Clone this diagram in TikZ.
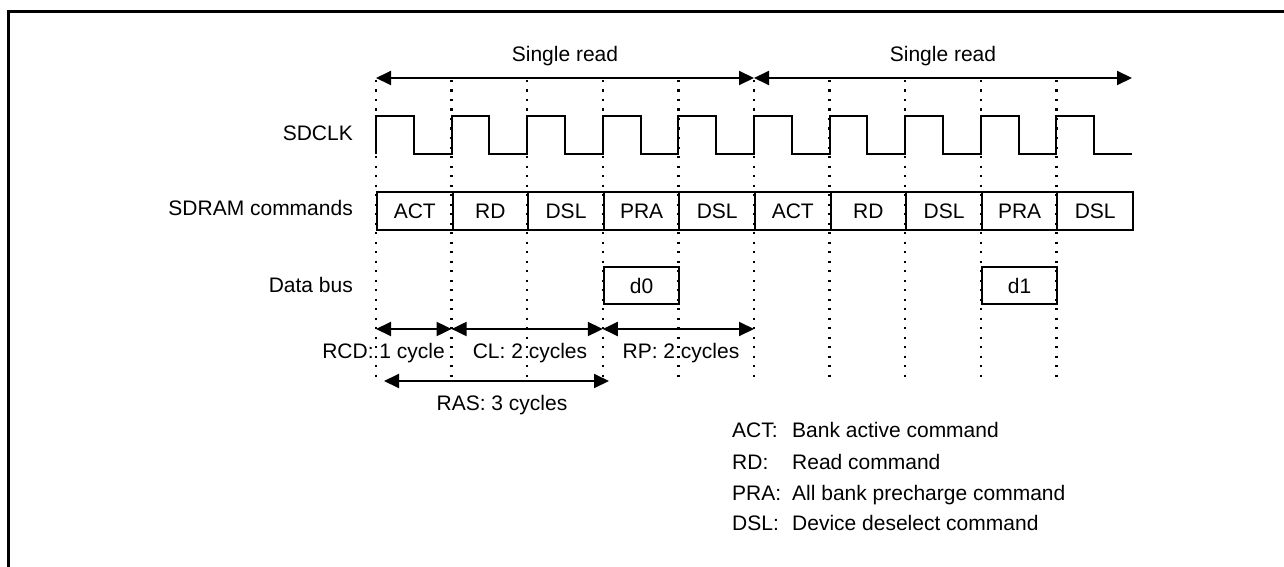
\documentclass[tikz,border=0pt]{standalone}
\usepackage{fontspec}
\setmainfont{Liberation Sans}
\usetikzlibrary{arrows.meta}
\begin{document}
\begin{tikzpicture}[x=1pt,y=-1pt,
  every node/.style={font=\fontsize{21}{25}\selectfont, inner sep=0pt},
  sig/.style={line width=2pt, line join=miter},
  cellbox/.style={draw, line width=2pt, minimum width=75.6pt, minimum height=38pt, anchor=north west},
  tick/.style={line width=2.3pt, dash pattern=on 2.2pt off 7.3pt},
  dimarrow/.style={line width=2pt, {Triangle[length=15pt,width=14pt]}-{Triangle[length=15pt,width=14pt]}},
  lbl/.style={anchor=east},
  leg/.style={anchor=base west}
]
\useasboundingbox (0,0) rectangle (1284,567);
\fill[white] (0,0) rectangle (1284,567);
% frame (top and left edges)
\draw[line width=3pt] (8.5,567) -- (8.5,11.5) -- (1284,11.5);

% tick coordinates
\foreach \i in {0,...,10} {
  \coordinate (tt\i) at ({376+75.6*\i},80);
  \coordinate (tb\i) at ({376+75.6*\i},381);
  \coordinate (ta\i) at ({376+75.6*\i},78);
  \coordinate (tm\i) at ({376+75.6*\i},329);
}
% dotted guide lines
\foreach \i in {0,...,9} {
  \draw[tick] (tt\i) -- (tb\i);
}

% Single read arrows
\draw[dimarrow] (ta0) -- node[above=11pt] (sr1) {Single read} (ta5);
\draw[dimarrow] (ta5) -- node[above=11pt] (sr2) {Single read} (ta10);

% signal labels
\node[lbl] (lclk) at (353,133) {SDCLK};
\node[lbl] (lcmd) at (353,208) {SDRAM commands};
\node[lbl] (ldat) at (353,285) {Data bus};

% clock
\draw[sig] (376,153.5)
  \foreach \i in {0,...,9} {
    -- ({376+75.6*\i},116.5) -- ({376+75.6*\i+37.8},116.5)
    -- ({376+75.6*\i+37.8},153.5) -- ({376+75.6*\i+75.6},153.5)
  };

% commands row
\foreach \t [count=\k from 0] in {ACT,RD,DSL,PRA,DSL,ACT,RD,DSL,PRA,DSL} {
  \node[cellbox] (c\k) at ({376+75.6*\k},191) {\t};
}

% data bus
\node[cellbox, minimum height=37pt] (d0) at ({376+75.6*3},266) {d0};
\node[cellbox, minimum height=37pt] (d1) at ({376+75.6*8},266) {d1};

% timing arrows
\coordinate (ras0) at (384,381);
\coordinate (ras1) at (609,381);
\draw[dimarrow] (tm0) -- (tm1);
\draw[dimarrow] (tm1) -- (tm3);
\draw[dimarrow] (tm3) -- (tm5);
\draw[dimarrow] (ras0) -- (ras1);
\node[anchor=east] (rcd) at (445,353) {RCD: 1 cycle};
\node (cl) at (530,353) {CL: 2 cycles};
\node (rp) at (681,353) {RP: 2 cycles};
\node (ras) at (502,405) {RAS: 3 cycles};

% legend
\node[leg] (k1) at (732,437.5) {ACT:};
\node[leg] (k2) at (732,469.5) {RD:};
\node[leg] (k3) at (732,500.5) {PRA:};
\node[leg] (k4) at (732,530.5) {DSL:};
\node[leg] (v1) at (792,437.5) {Bank active command};
\node[leg] (v2) at (792,469.5) {Read command};
\node[leg] (v3) at (792,500.5) {All bank precharge command};
\node[leg] (v4) at (792,530.5) {Device deselect command};
\end{tikzpicture}
\end{document}
